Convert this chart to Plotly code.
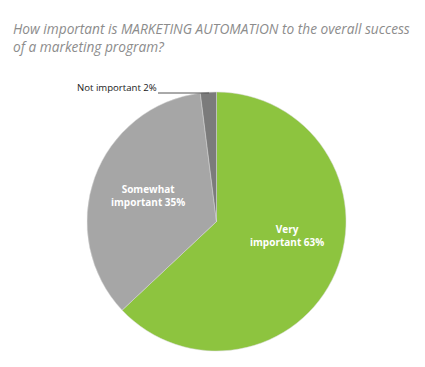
import plotly.graph_objects as go

categories = ["Very important", "Somewhat important", "Not important"]
values = [63, 35, 2]
label_text = ["Very<br>important 63%", "Somewhat<br>important 35%", "Not important 2%"]
colors = ["#8dc43f", "#a6a6a6", "#7b7b7b"]
title_text = ("How important is MARKETING AUTOMATION to the overall success<br>"
              "of a marketing program?")

OFF = 8  # page body margin
W, H = 425 - OFF, 367 - OFF
cx, cy, r = 216.5 - OFF, 221.5 - OFF, 129.5


def px(x):
    return (x - OFF) / W


def py(y):
    return 1 - (y - OFF) / H


fig = go.Figure(go.Pie(
    labels=categories,
    values=values,
    textinfo="none",
    sort=False,
    direction="clockwise",
    rotation=0,
    marker=dict(colors=colors, line=dict(color="#d9d9d9", width=0.5)),
    hoverinfo="label+percent",
    showlegend=False,
    domain=dict(x=[(cx - r) / W, (cx + r) / W],
                y=[(H - cy - r) / H, (H - cy + r) / H]),
))

fig.add_annotation(
    text=title_text, xref="paper", yref="paper",
    x=px(11), y=py(17), xanchor="left", yanchor="top", showarrow=False,
    align="left",
    font=dict(family="Open Sans", size=13.7, color="#8c8c8c", style="italic"),
)
# slice labels
label_pos = [(287, 235), (148, 195)]
for txt, (lx, ly) in zip(label_text[:2], label_pos):
    fig.add_annotation(
        text=txt, xref="paper", yref="paper", x=px(lx), y=py(ly),
        xanchor="center", yanchor="middle", showarrow=False, align="center",
        font=dict(family="Open Sans", size=10, color="white", weight="bold"),
    )
fig.add_annotation(
    text=label_text[2], xref="paper", yref="paper",
    x=px(75), y=py(88), xanchor="left", yanchor="middle", showarrow=False,
    font=dict(family="Open Sans", size=9.6, color="#1a1a1a"),
)
fig.add_shape(type="line", xref="paper", yref="paper",
              x0=px(158), x1=px(209), y0=py(93), y1=py(93),
              line=dict(color="#555555", width=1))

fig.update_layout(
    width=W, height=H,
    margin=dict(l=0, r=0, t=0, b=0),
    paper_bgcolor="white", plot_bgcolor="white",
)
fig.write_html("out.html")
